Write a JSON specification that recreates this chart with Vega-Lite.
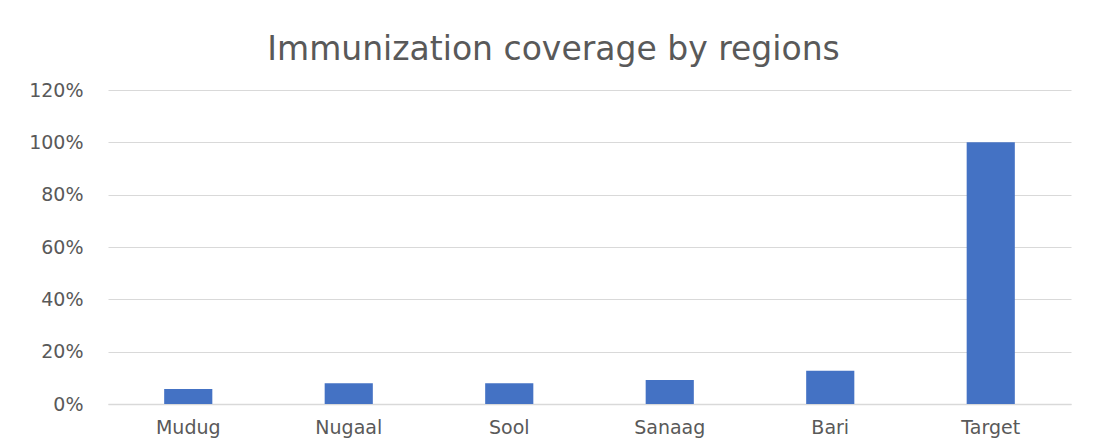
{
  "$schema": "https://vega.github.io/schema/vega-lite/v6.json",
  "autosize": {"type": "none"},
  "padding": {"left": 108, "top": 90, "right": 25, "bottom": 43},
  "width": 963,
  "height": 314,
  "background": "white",
  "title": {
    "text": "Immunization coverage by regions",
    "font": "DejaVu Sans",
    "fontSize": 33,
    "fontWeight": "normal",
    "color": "#595959",
    "anchor": "middle",
    "dx": -36,
    "offset": 14
  },
  "data": {
    "values": [
      {"region": "Mudug", "coverage": 0.057},
      {"region": "Nugaal", "coverage": 0.079},
      {"region": "Sool", "coverage": 0.079},
      {"region": "Sanaag", "coverage": 0.092},
      {"region": "Bari", "coverage": 0.127},
      {"region": "Target", "coverage": 1.0}
    ]
  },
  "mark": {"type": "bar", "color": "#4472C4"},
  "encoding": {
    "x": {
      "field": "region",
      "type": "nominal",
      "sort": null,
      "scale": {"paddingInner": 0.7, "paddingOuter": 0.35},
      "axis": {
        "title": null,
        "labelAngle": 0,
        "labelFont": "DejaVu Sans",
        "labelFontSize": 19,
        "labelColor": "#595959",
        "labelPadding": 14,
        "ticks": false,
        "domainColor": "#d9d9d9",
        "domainWidth": 1.5
      }
    },
    "y": {
      "field": "coverage",
      "type": "quantitative",
      "scale": {"domain": [0, 1.2]},
      "axis": {
        "title": null,
        "format": ".0%",
        "values": [0, 0.2, 0.4, 0.6, 0.8, 1.0, 1.2],
        "labelFont": "DejaVu Sans",
        "labelFontSize": 19,
        "labelColor": "#595959",
        "labelPadding": 25,
        "ticks": false,
        "domain": false,
        "gridColor": "#d9d9d9",
        "gridWidth": 1.2
      }
    }
  },
  "config": {"view": {"stroke": null}}
}
